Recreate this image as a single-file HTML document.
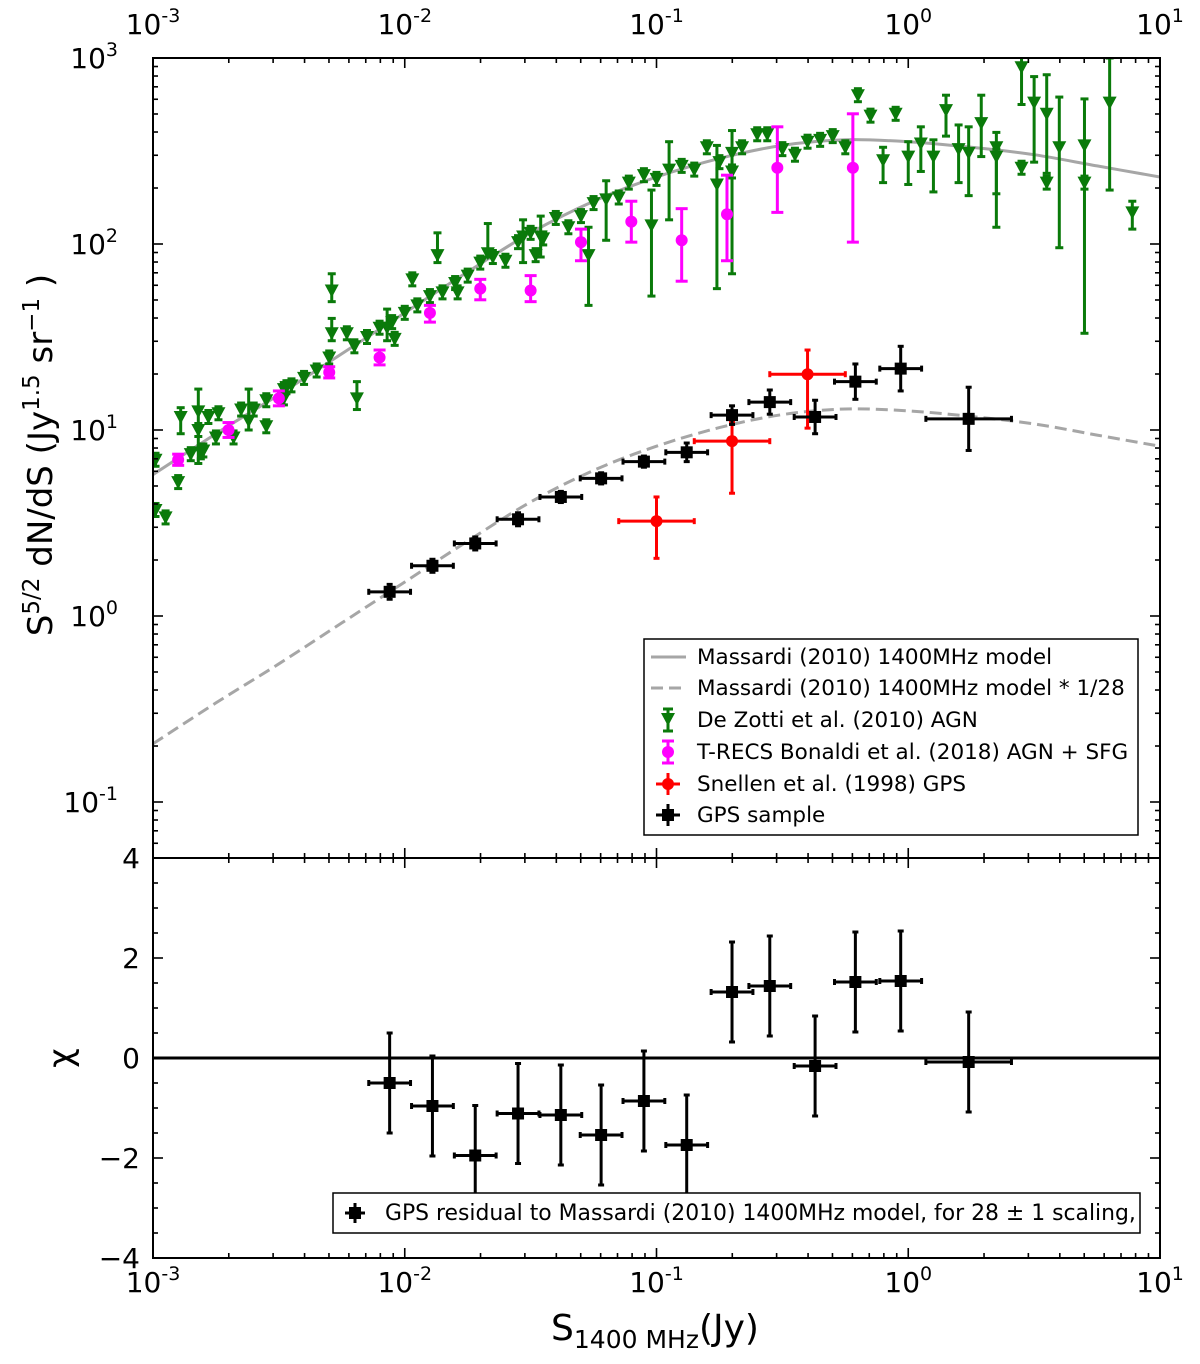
<!DOCTYPE html>
<html><head><meta charset="utf-8"><style>
html,body{margin:0;padding:0;background:#fff;}
svg{display:block;font-family:"DejaVu Sans","Liberation Sans",sans-serif;}
</style></head>
<body>
<svg id="chart" width="1200" height="1364" viewBox="0 0 1200 1364" xmlns="http://www.w3.org/2000/svg">
<defs>
<clipPath id="clipTop"><rect x="153" y="58" width="1007" height="800"/></clipPath>
<clipPath id="clipBot"><rect x="153" y="858" width="1007" height="400"/></clipPath>
</defs>
<g id="gTop" clip-path="url(#clipTop)"></g>
<g id="gBot" clip-path="url(#clipBot)"></g>
<g id="gAxes"></g>
<text transform="translate(52,455) rotate(-90)" text-anchor="middle" font-size="34">S<tspan font-size="23" dy="-13">5/2</tspan><tspan dy="13"> dN/dS (Jy</tspan><tspan font-size="23" dy="-13">1.5</tspan><tspan dy="13"> sr</tspan><tspan font-size="23" dy="-13">−1</tspan><tspan dy="13"> )</tspan></text>
<text transform="translate(72,1058) rotate(-90)" text-anchor="middle" font-size="34">χ</text>
<text x="655" y="1340" text-anchor="middle" font-size="36">S<tspan font-size="25" dy="8">1400 MHz</tspan><tspan dy="-8">(Jy)</tspan></text>
<g>
<rect x="644" y="639" width="494" height="196" fill="#fff" stroke="#000" stroke-width="1.5"/>
<g><line x1="651" y1="657" x2="686" y2="657" stroke="#a6a6a6" stroke-width="3"/><text x="697" y="664" font-size="21.5">Massardi (2010) 1400MHz model</text></g>
<g><line x1="651" y1="688" x2="686" y2="688" stroke="#a6a6a6" stroke-width="3" stroke-dasharray="12,6"/><text x="697" y="695" font-size="21.5">Massardi (2010) 1400MHz model * 1/28</text></g>
<g><line x1="668" y1="709" x2="668" y2="731" stroke="#0a7a0a" stroke-width="3"/><line x1="663" y1="709" x2="673" y2="709" stroke="#0a7a0a" stroke-width="3"/><line x1="663" y1="731" x2="673" y2="731" stroke="#0a7a0a" stroke-width="3"/><polygon points="661,713 675,713 668,726" fill="#0a7a0a"/><text x="697" y="727" font-size="21.5">De Zotti et al. (2010) AGN</text></g>
<g><line x1="668" y1="741" x2="668" y2="763" stroke="#ff00ff" stroke-width="3"/><line x1="662" y1="741" x2="674" y2="741" stroke="#ff00ff" stroke-width="3"/><line x1="662" y1="763" x2="674" y2="763" stroke="#ff00ff" stroke-width="3"/><circle cx="668" cy="752" r="6" fill="#ff00ff"/><text x="697" y="759" font-size="21.5">T-RECS Bonaldi et al. (2018) AGN + SFG</text></g>
<g><line x1="656" y1="784" x2="680" y2="784" stroke="#ff0000" stroke-width="3"/><line x1="668" y1="773" x2="668" y2="795" stroke="#ff0000" stroke-width="3"/><circle cx="668" cy="784" r="6" fill="#ff0000"/><text x="697" y="791" font-size="21.5">Snellen et al. (1998) GPS</text></g>
<g><line x1="656" y1="815" x2="680" y2="815" stroke="#000" stroke-width="3"/><line x1="668" y1="804" x2="668" y2="826" stroke="#000" stroke-width="3"/><rect x="662" y="809" width="12" height="12" fill="#000"/><text x="697" y="822" font-size="21.5">GPS sample</text></g>
</g>
<g>
<rect x="333" y="1193" width="807" height="40" fill="#fff" stroke="#000" stroke-width="1.5"/>
<line x1="345" y1="1213" x2="365" y2="1213" stroke="#000" stroke-width="3"/><line x1="355" y1="1203" x2="355" y2="1223" stroke="#000" stroke-width="3"/><rect x="349" y="1207" width="12" height="12" fill="#000"/>
<text x="385" y="1220" font-size="21.9">GPS residual to Massardi (2010) 1400MHz model, for 28 ± 1 scaling,</text>
</g>
</svg>
<script>
// ---- data (log10 values) ----
const modelLogS = [-3,-2.75,-2.5,-2.25,-2,-1.75,-1.5,-1.25,-1,-0.75,-0.5,-0.25,0,0.25,0.5,0.75,1];
const modelLogN = [0.76,0.98,1.19,1.41,1.63,1.85,2.06,2.23,2.36,2.46,2.53,2.56,2.55,2.52,2.48,2.42,2.36];
const scaleFactor = 28;

const dzLogS = [-2.99,-2.99,-2.95,-2.89,-2.90,-2.85,-2.82,-2.82,-2.81,-2.80,-2.78,-2.74,-2.75,-2.68,-2.65,-2.62,-2.60,-2.55,-2.55,-2.48,-2.47,-2.48,-2.45,-2.40,-2.35,-2.30,-2.29,-2.29,-2.23,-2.20,-2.19,-2.15,-2.10,-2.07,-2.05,-2.04,-2.00,-1.97,-1.95,-1.90,-1.87,-1.85,-1.80,-1.79,-1.75,-1.70,-1.67,-1.65,-1.60,-1.55,-1.53,-1.50,-1.48,-1.46,-1.45,-1.40,-1.35,-1.30,-1.27,-1.25,-1.20,-1.15,-1.11,-1.05,-1.02,-1.00,-0.95,-0.90,-0.85,-0.80,-0.76,-0.75,-0.70,-0.70,-0.66,-0.60,-0.56,-0.50,-0.45,-0.40,-0.35,-0.30,-0.25,-0.20,-0.15,-0.10,-0.05,0.00,0.05,0.10,0.15,0.20,0.24,0.29,0.35,0.35,0.45,0.45,0.50,0.55,0.55,0.60,0.70,0.70,0.80,0.89];
const dzLogN = [0.84,0.57,0.53,1.07,0.72,0.87,1.10,1.00,0.88,0.89,1.07,1.09,0.96,0.96,1.11,1.05,1.11,1.16,1.02,1.22,1.23,1.17,1.24,1.28,1.32,1.39,1.75,1.52,1.52,1.45,1.17,1.50,1.55,1.55,1.58,1.49,1.63,1.81,1.67,1.72,1.94,1.74,1.79,1.74,1.83,1.90,1.95,1.93,1.91,2.01,2.04,2.06,1.94,2.04,2.03,2.14,2.09,2.15,1.94,2.22,2.24,2.25,2.33,2.37,2.10,2.35,2.40,2.42,2.40,2.52,2.32,2.44,2.49,2.39,2.52,2.59,2.59,2.51,2.48,2.55,2.56,2.58,2.52,2.80,2.69,2.45,2.70,2.47,2.54,2.47,2.72,2.51,2.49,2.65,2.52,2.47,2.95,2.41,2.76,2.70,2.33,2.52,2.53,2.33,2.76,2.17];
const dzErrHi = {3:1.12,6:1.22,15:1.22,26:1.84,27:1.60,30:1.26,33:1.65,40:2.06,46:2.11,50:2.13,53:2.15,58:2.09,60:2.34,64:2.29,66:2.55,70:2.53,72:2.61,85:2.52,87:2.55,88:2.63,89:2.56,90:2.80,91:2.64,92:2.63,93:2.80,94:2.60,95:2.51,96:3.02,98:2.90,99:2.91,101:2.79,102:2.78,104:3.0,105:2.23};
const dzErrLo = {3:0.98,6:0.82,15:1.00,26:1.69,27:1.48,30:1.11,33:1.48,40:1.90,46:1.93,50:1.90,53:1.93,58:1.67,60:2.02,64:1.72,66:2.13,70:1.76,72:1.84,85:2.33,87:2.32,88:2.39,89:2.28,90:2.58,91:2.33,92:2.26,93:2.47,94:2.27,95:2.09,96:2.75,98:2.44,99:2.38,101:1.98,102:1.52,104:2.29,105:2.08};

const trLogS = [-2.90,-2.70,-2.50,-2.30,-2.10,-1.90,-1.70,-1.50,-1.30,-1.10,-0.90,-0.72,-0.52,-0.22];
const trLogN = [0.84,1.00,1.17,1.31,1.39,1.63,1.76,1.75,2.01,2.12,2.02,2.16,2.41,2.41];
const trErrHi = [0.87,1.04,1.21,1.34,1.43,1.67,1.81,1.83,2.08,2.23,2.19,2.37,2.63,2.70];
const trErrLo = [0.81,0.96,1.13,1.28,1.35,1.58,1.70,1.69,1.91,2.01,1.80,1.91,2.17,2.01];

const snLogS = [-1.00,-0.70,-0.40];
const snLogN = [0.51,0.94,1.30];
const snErrHi = [0.64,1.04,1.43];
const snErrLo = [0.31,0.66,1.01];
const snXErr = [0.15,0.15,0.15];

const gpsLogS = [-2.06,-1.89,-1.72,-1.55,-1.38,-1.22,-1.05,-0.88,-0.70,-0.55,-0.37,-0.21,-0.03,0.24];
const gpsLogN = [0.13,0.27,0.39,0.52,0.64,0.74,0.83,0.88,1.08,1.15,1.07,1.26,1.33,1.06];
const gpsYErr = [0.04,0.035,0.035,0.035,0.03,0.03,0.03,0.05,0.05,0.065,0.09,0.095,0.12,0.17];
const gpsXErr = [0.083,0.083,0.083,0.083,0.083,0.083,0.083,0.083,0.083,0.083,0.083,0.083,0.083,0.17];

const chiValues = [-0.50,-0.96,-1.95,-1.11,-1.14,-1.54,-0.86,-1.74,1.32,1.44,-0.16,1.52,1.54,-0.08];
const chiErr = [1,1,1,1,1,1,1,1,1,1,1,1,1,1];

const xTickExp = [-3,-2,-1,0,1];
const yTickExp = [-1,0,1,2,3];
const chiTicks = [4,2,0,-2,-4];

// ---- axis functions ----
const L=153,R=1160,T=58,B=858,BB=1258;
function X(lx){return L+(lx+3)*(R-L)/4;}
function Y(ly){return 616-ly*186;}
function YC(c){return 1058-c*50;}
const NS="http://www.w3.org/2000/svg";
function mk(parent,tag,attrs){const e=document.createElementNS(NS,tag);for(const k in attrs)e.setAttribute(k,attrs[k]);parent.appendChild(e);return e;}
const gTop=document.getElementById('gTop'),gBot=document.getElementById('gBot'),gAx=document.getElementById('gAxes');

function curve(off,dash,name){
  const pts=modelLogS.map((s,i)=>[X(s),Y(modelLogN[i]-off)]);
  let d='M'+pts[0][0].toFixed(1)+','+pts[0][1].toFixed(1);
  for(let i=0;i<pts.length-1;i++){
    const p0=pts[Math.max(0,i-1)],p1=pts[i],p2=pts[i+1],p3=pts[Math.min(pts.length-1,i+2)];
    const c1=[p1[0]+(p2[0]-p0[0])/6,p1[1]+(p2[1]-p0[1])/6];
    const c2=[p2[0]-(p3[0]-p1[0])/6,p2[1]-(p3[1]-p1[1])/6];
    d+='C'+c1[0].toFixed(1)+','+c1[1].toFixed(1)+' '+c2[0].toFixed(1)+','+c2[1].toFixed(1)+' '+p2[0].toFixed(1)+','+p2[1].toFixed(1);
  }
  const p=mk(gTop,'path',{d:d,fill:'none',stroke:'#a6a6a6','stroke-width':3});
  if(dash)p.setAttribute('stroke-dasharray','12,6');
  
  
}
curve(0,false,'massardi-model-line');
curve(Math.log10(scaleFactor),true,'massardi-model-scaled-line');

function vbar(g,x,y1,y2,col,cap){mk(g,'line',{x1:x,y1:y1,x2:x,y2:y2,stroke:col,'stroke-width':3});mk(g,'line',{x1:x-cap,y1:y1,x2:x+cap,y2:y1,stroke:col,'stroke-width':3});mk(g,'line',{x1:x-cap,y1:y2,x2:x+cap,y2:y2,stroke:col,'stroke-width':3});}
function hbar(g,y,x1,x2,col,cap){mk(g,'line',{x1:x1,y1:y,x2:x2,y2:y,stroke:col,'stroke-width':3});mk(g,'line',{x1:x1,y1:y-cap,x2:x1,y2:y+cap,stroke:col,'stroke-width':3});mk(g,'line',{x1:x2,y1:y-cap,x2:x2,y2:y+cap,stroke:col,'stroke-width':3});}

const GREEN='#0a7a0a';
dzLogS.forEach((s,i)=>{
  const g=mk(gTop,'g',{});
  
  
  const x=X(s),y=Y(dzLogN[i]);
  const hi=(i in dzErrHi)?dzErrHi[i]:dzLogN[i]+0.035, lo=(i in dzErrLo)?dzErrLo[i]:dzLogN[i]-0.035;
  vbar(g,x,Y(hi),Y(lo),GREEN,4);
  mk(g,'polygon',{points:`${x-7},${y-6} ${x+7},${y-6} ${x},${y+7}`,fill:GREEN});
});
trLogS.forEach((s,i)=>{
  const g=mk(gTop,'g',{});
  
  
  const x=X(s);vbar(g,x,Y(trErrHi[i]),Y(trErrLo[i]),'#ff00ff',6);
  mk(g,'circle',{cx:x,cy:Y(trLogN[i]),r:6,fill:'#ff00ff'});
});
snLogS.forEach((s,i)=>{
  const g=mk(gTop,'g',{});
  
  
  const x=X(s),y=Y(snLogN[i]);
  hbar(g,y,X(s-snXErr[i]),X(s+snXErr[i]),'#ff0000',3);
  vbar(g,x,Y(snErrHi[i]),Y(snErrLo[i]),'#ff0000',3);
  mk(g,'circle',{cx:x,cy:y,r:6,fill:'#ff0000'});
});
gpsLogS.forEach((s,i)=>{
  const g=mk(gTop,'g',{});
  
  
  const x=X(s),y=Y(gpsLogN[i]);
  hbar(g,y,X(s-gpsXErr[i]),X(s+gpsXErr[i]),'#000',3);
  vbar(g,x,Y(gpsLogN[i]+gpsYErr[i]),Y(gpsLogN[i]-gpsYErr[i]),'#000',3);
  mk(g,'rect',{x:x-6,y:y-6,width:12,height:12,fill:'#000'});
});
const z=mk(gBot,'line',{x1:L,y1:YC(0),x2:R,y2:YC(0),stroke:'#000','stroke-width':3});


gpsLogS.forEach((s,i)=>{
  const g=mk(gBot,'g',{});
  
  
  const x=X(s),y=YC(chiValues[i]);
  hbar(g,y,X(s-gpsXErr[i]),X(s+gpsXErr[i]),'#000',3);
  vbar(g,x,YC(chiValues[i]+chiErr[i]),YC(chiValues[i]-chiErr[i]),'#000',3);
  mk(g,'rect',{x:x-6,y:y-6,width:12,height:12,fill:'#000'});
});

mk(gAx,'rect',{x:L,y:T,width:R-L,height:B-T,fill:'none',stroke:'#000','stroke-width':2});
mk(gAx,'rect',{x:L,y:B,width:R-L,height:BB-B,fill:'none',stroke:'#000','stroke-width':2});
function tk(x1,y1,x2,y2){mk(gAx,'line',{x1:x1,y1:y1,x2:x2,y2:y2,stroke:'#000','stroke-width':1.6});}
for(let e=-3;e<=1;e++){
  for(let m=1;m<=9;m++){
    if(e===1&&m>1)break;
    const x=X(e+Math.log10(m)),len=m===1?10:5;
    tk(x,B,x,B-len); tk(x,BB,x,BB-len);
    tk(x,T,x,T+len); tk(x,B,x,B+len);
  }
}
xTickExp.forEach(e=>{
  [34,1292].forEach(yy=>{
    const t=mk(gAx,'text',{x:X(e),y:yy,'text-anchor':'middle','font-size':28});
    
    
    t.innerHTML='10<tspan font-size="19" dy="-12">'+e+'</tspan>';
  });
});
for(let e=-2;e<=2;e++){for(let m=1;m<=9;m++){const ly=e+Math.log10(m);if(ly<-1.31||ly>3)continue;const len=m===1?10:5;const y=Y(ly);tk(L,y,L+len,y);tk(R,y,R-len,y);}}
tk(L,Y(3),L+10,Y(3));tk(R,Y(3),R-10,Y(3));
yTickExp.forEach(e=>{
  const t=mk(gAx,'text',{x:118,y:Y(e)+10,'text-anchor':'end','font-size':28});
  
  
  t.innerHTML='10<tspan font-size="19" dy="-12">'+e+'</tspan>';
});
for(let c=-4;c<=4;c+=0.5){const y=YC(c),len=(c%2===0)?10:5;tk(L,y,L+len,y);tk(R,y,R-len,y);}
chiTicks.forEach(c=>{
  const t=mk(gAx,'text',{x:140,y:YC(c)+10,'text-anchor':'end','font-size':28});
  
  
  t.textContent=c<0?'−'+(-c):String(c);
});
</script>
</body></html>
